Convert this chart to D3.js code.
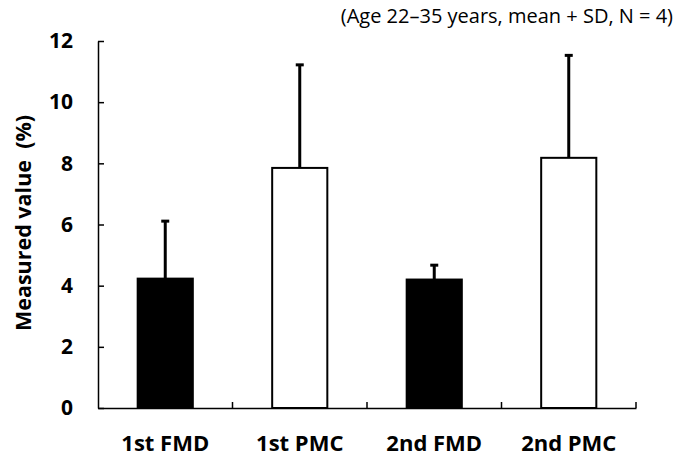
<!DOCTYPE html>
<html>
<head>
<meta charset="utf-8">
<script src="https://cdn.jsdelivr.net/npm/d3@7"></script>
<style>
    body { margin: 0; background: #fff; }
    svg { display: block; }
    svg text { font-family: "Open Sans", "Noto Sans", sans-serif; }
</style>
</head>
<body>
<svg id="chart" width="675" height="459"></svg>
<script>
'use strict';

const categories = ['1st FMD', '1st PMC', '2nd FMD', '2nd PMC'];
const means = [4.23, 7.85, 4.2, 8.18];
const sds = [1.88, 3.37, 0.47, 3.35];
const fills = ['#000', '#fff', '#000', '#fff'];
const yTicks = [0, 2, 4, 6, 8, 10, 12];

const LEFT = 98;
const RIGHT = 636;
const TOP = 41;
const BOTTOM = 408;
const TICK = 6;

const svg = d3.select('#chart');

const x = d3.scaleBand()
    .domain(categories)
    .range([LEFT, RIGHT])
    .paddingInner(0.59)
    .paddingOuter(0.295);

const y = d3.scaleLinear()
    .domain([0, 12])
    .range([BOTTOM, TOP]);

const data = categories.map((c, i) => ({cat: c, mean: means[i], sd: sds[i], fill: fills[i]}));

// bars
svg.selectAll('.bar')
    .data(data)
    .enter()
    .append('rect')
    .attr('class', 'bar')
    .attr('x', d => x(d.cat))
    .attr('y', d => y(d.mean))
    .attr('width', x.bandwidth())
    .attr('height', d => BOTTOM - y(d.mean))
    .attr('fill', d => d.fill)
    .attr('stroke', '#000')
    .attr('stroke-width', 2);

// error bars (upper only)
const err = svg.selectAll('.err')
    .data(data)
    .enter()
    .append('g')
    .attr('class', 'err');

err.append('line')
    .attr('x1', d => x(d.cat) + x.bandwidth() / 2)
    .attr('x2', d => x(d.cat) + x.bandwidth() / 2)
    .attr('y1', d => y(d.mean))
    .attr('y2', d => y(d.mean + d.sd))
    .attr('stroke', '#000')
    .attr('stroke-width', 3);

err.append('line')
    .attr('x1', d => x(d.cat) + x.bandwidth() / 2 - 4)
    .attr('x2', d => x(d.cat) + x.bandwidth() / 2 + 4)
    .attr('y1', d => y(d.mean + d.sd))
    .attr('y2', d => y(d.mean + d.sd))
    .attr('stroke', '#000')
    .attr('stroke-width', 3);

// y axis
const yAxis = d3.axisLeft(y)
    .tickValues(yTicks)
    .tickSizeInner(-TICK)
    .tickSizeOuter(0)
    .tickPadding(25);

const gY = svg.append('g')
    .attr('transform', 'translate(' + LEFT + ',0)')
    .call(yAxis);

gY.select('.domain').attr('stroke-width', 1.5);
gY.selectAll('.tick line').attr('stroke-width', 1.5);
gY.selectAll('.tick text')
    .style('font-family', '"Open Sans", sans-serif')
    .style('font-size', '21px')
    .style('font-weight', 'bold')
    .attr('fill', '#000');

// x axis, with ticks between the categories
const xAxis = d3.axisBottom(x)
    .tickSize(0)
    .tickPadding(27);

const gX = svg.append('g')
    .attr('transform', 'translate(0,' + BOTTOM + ')')
    .call(xAxis);

gX.select('.domain').attr('stroke-width', 1.5);
gX.selectAll('.tick text')
    .style('font-family', '"Open Sans", sans-serif')
    .style('font-size', '22px')
    .style('font-weight', 'bold')
    .attr('fill', '#000');

const step = x.step();
gX.selectAll('.sep')
    .data(d3.range(1, categories.length + 1))
    .enter()
    .append('line')
    .attr('class', 'sep')
    .attr('x1', i => LEFT + i * step)
    .attr('x2', i => LEFT + i * step)
    .attr('y1', 0)
    .attr('y2', -TICK)
    .attr('stroke', '#000')
    .attr('stroke-width', 1.5);

// axis title
svg.append('text')
    .attr('transform', 'translate(31,' + 223 + ') rotate(-90)')
    .attr('text-anchor', 'middle')
    .style('font-size', '21.5px')
    .style('font-weight', 'bold')
    .style('white-space', 'pre')
    .text('Measured value  (%)');

// note
svg.append('text')
    .attr('x', 673)
    .attr('y', 23)
    .attr('text-anchor', 'end')
    .style('font-size', '20px')
    .text('(Age 22\u201335 years, mean + SD, N = 4)');
</script>
</body>
</html>
